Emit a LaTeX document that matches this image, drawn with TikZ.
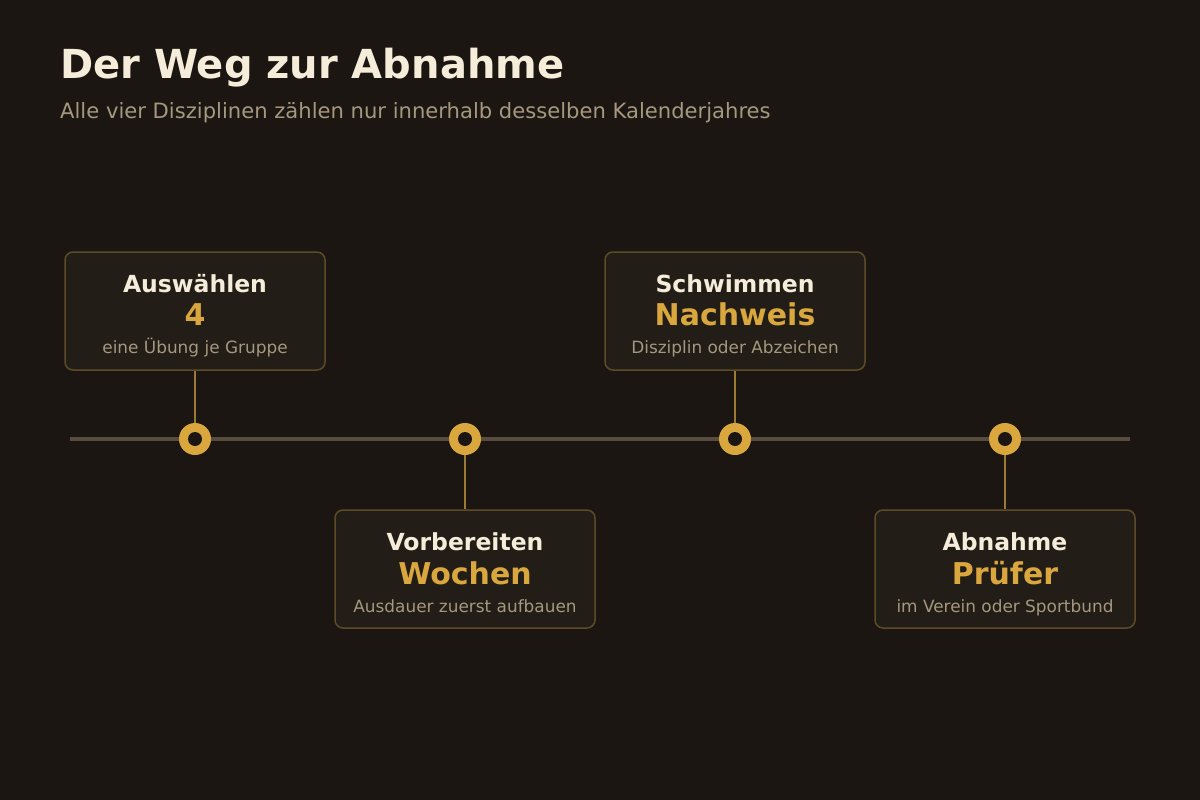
\documentclass[tikz,border=0pt]{standalone}
\usepackage{fontspec}
\setmainfont{DejaVu Sans}
\definecolor{bg}{HTML}{1B1611}
\definecolor{boxfill}{HTML}{221D17}
\definecolor{boxline}{HTML}{5E4A27}
\definecolor{cream}{HTML}{F5ECDA}
\definecolor{muted}{HTML}{A6977F}
\definecolor{gold}{HTML}{DAA73E}
\definecolor{stem}{HTML}{9C7A34}
\definecolor{track}{HTML}{574C3D}
\tikzset{
  card/.style={draw=boxline, line width=1.5pt, fill=boxfill, rounded corners=8pt, minimum width=260pt, minimum height=118pt, inner sep=0pt},
  cardtitle/.style={anchor=base, inner sep=0pt, text=cream, font=\fontsize{23.5}{28}\selectfont\bfseries},
  cardvalue/.style={anchor=base, inner sep=0pt, text=gold, font=\fontsize{30}{36}\selectfont\bfseries},
  cardnote/.style={anchor=base, inner sep=0pt, text=muted, font=\fontsize{16.9}{20}\selectfont},
  marker/.style={circle, fill=gold, minimum size=32pt, inner sep=0pt},
  hole/.style={circle, fill=bg, minimum size=14pt, inner sep=0pt},
  stemline/.style={draw=stem, line width=2.2pt},
}
\begin{document}
\begin{tikzpicture}[x=1pt,y=-1pt]
\useasboundingbox (0,0) rectangle (1200,800);
\fill[bg] (0,0) rectangle (1200,800);
\node[anchor=base west, inner sep=0pt, text=cream, font=\fontsize{40}{48}\selectfont\bfseries] (title) at (60,78) {Der Weg zur Abnahme};
\node[anchor=base west, inner sep=0pt, text=muted, font=\fontsize{21.1}{25}\selectfont] (subtitle) at (60,118) {Alle vier Disziplinen zählen nur innerhalb desselben Kalenderjahres};
% timeline
\coordinate (tl) at (70,439);
\coordinate (tr) at (1130,439);
\draw[track, line width=4pt] (tl) -- (tr);
% cards
\node[card] (b1) at (195,311) {};
\node[card] (b2) at (465,569) {};
\node[card] (b3) at (735,311) {};
\node[card] (b4) at (1005,569) {};
% marker positions
\coordinate (p1) at (195,439);
\coordinate (p2) at (465,439);
\coordinate (p3) at (735,439);
\coordinate (p4) at (1005,439);
\draw[stemline] (b1.south) -- (p1);
\draw[stemline] (b2.north) -- (p2);
\draw[stemline] (b3.south) -- (p3);
\draw[stemline] (b4.north) -- (p4);
\foreach \i in {1,2,3,4} {
  \node[marker] (m\i) at (p\i) {};
  \node[hole] (h\i) at (p\i) {};
}
% card texts
\node[cardtitle] (t1) at ([yshift=19pt]b1.center) {Auswählen};
\node[cardvalue] (v1) at ([yshift=-14pt]b1.center) {4};
\node[cardnote] (n1) at ([yshift=-42pt]b1.center) {eine Übung je Gruppe};
\node[cardtitle] (t2) at ([yshift=19pt]b2.center) {Vorbereiten};
\node[cardvalue] (v2) at ([yshift=-15pt]b2.center) {Wochen};
\node[cardnote] (n2) at ([yshift=-43pt]b2.center) {Ausdauer zuerst aufbauen};
\node[cardtitle] (t3) at ([yshift=19pt]b3.center) {Schwimmen};
\node[cardvalue] (v3) at ([yshift=-14pt]b3.center) {Nachweis};
\node[cardnote] (n3) at ([yshift=-42pt]b3.center) {Disziplin oder Abzeichen};
\node[cardtitle] (t4) at ([yshift=19pt]b4.center) {Abnahme};
\node[cardvalue] (v4) at ([yshift=-15pt]b4.center) {Prüfer};
\node[cardnote] (n4) at ([yshift=-43pt]b4.center) {im Verein oder Sportbund};
\end{tikzpicture}
\end{document}
